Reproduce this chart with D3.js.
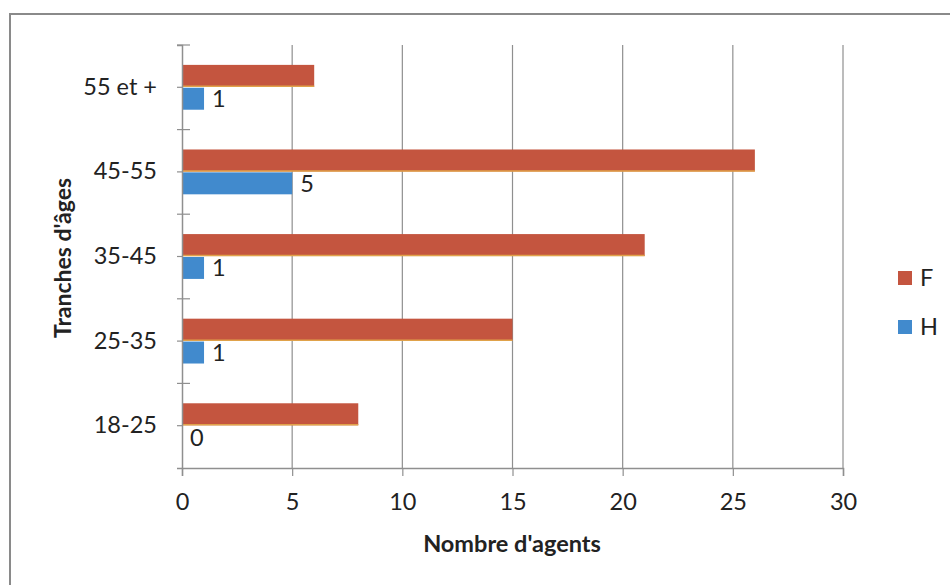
<!DOCTYPE html>
<html>
<head>
<meta charset="utf-8">
<script src="https://cdn.jsdelivr.net/npm/d3@7"></script>
<style>
  html, body { margin: 0; padding: 0; background: #fff; }
  svg { display: block; font-family: Lato, "Open Sans", sans-serif; }
</style>
</head>
<body>
<svg id="chart" width="950" height="585"></svg>
<script>
// Age brackets, listed bottom to top as on the axis
const categories = ["18-25", "25-35", "35-45", "45-55", "55 et +"];
// Number of agents per bracket
const femmes = [8, 15, 21, 26, 6];   // F
const hommes = [0, 1, 1, 5, 1];      // H
const seriesNames = ["F", "H"];
const xTicks = [0, 5, 10, 15, 20, 25, 30];

const colors = { F: "#c4553f", H: "#418acd" };
const textColor = "#222";
const gridColor = "#8f8f8f";
const labelSize = 23.5;

const svg = d3.select("#chart");

const plot = { left: 182, right: 843, top: 45, bottom: 468 };

const x = d3.scaleLinear().domain([0, 30]).range([plot.left, plot.right]);
const y = d3.scaleBand()
  .domain(categories.slice().reverse())
  .range([plot.top, plot.bottom])
  .paddingInner(0.47)
  .paddingOuter(0.235);
const band = (plot.bottom - plot.top) / categories.length;
const inner = d3.scaleBand().domain(seriesNames).range([0, y.bandwidth()]).paddingInner(0.04);

// Outer frame
svg.append("path")
  .attr("d", "M10,590 L10,14 L955,14")
  .attr("fill", "none")
  .attr("stroke", "#8a8a8a")
  .attr("stroke-width", 2);

// Vertical gridlines
svg.append("g")
  .selectAll("line")
  .data(xTicks.slice(1))
  .join("line")
  .attr("x1", d => x(d)).attr("x2", d => x(d))
  .attr("y1", plot.top).attr("y2", plot.bottom)
  .attr("stroke", gridColor)
  .attr("stroke-width", 1.2);

// Bars
const rows = categories.map((c, i) => ({ cat: c, F: femmes[i], H: hommes[i] }));
const groups = svg.append("g").selectAll("g")
  .data(rows)
  .join("g")
  .attr("transform", d => `translate(0,${y(d.cat)})`);

seriesNames.forEach(s => {
  groups.append("rect")
    .attr("x", x(0))
    .attr("y", inner(s))
    .attr("width", d => x(d[s]) - x(0))
    .attr("height", inner.bandwidth())
    .attr("fill", colors[s]);
});

// Thin warm edge under the F bars
groups.append("line")
  .attr("x1", x(0))
  .attr("x2", d => x(d.F))
  .attr("y1", inner("F") + inner.bandwidth() - 0.5)
  .attr("y2", inner("F") + inner.bandwidth() - 0.5)
  .attr("stroke", "#e0a24a")
  .attr("stroke-width", 1.5);

// Value labels on the H bars
groups.append("text")
  .attr("x", d => x(d.H) + 8)
  .attr("y", inner("H") + inner.bandwidth() / 2)
  .attr("dy", "0.36em")
  .attr("font-size", labelSize)
  .attr("fill", textColor)
  .text(d => d.H);

// X axis
const xAxis = svg.append("g")
  .attr("transform", `translate(0,${plot.bottom})`)
  .call(d3.axisBottom(x).tickValues(xTicks).tickSize(8).tickPadding(17).tickFormat(d3.format("d")));
xAxis.select(".domain").attr("stroke", gridColor).attr("stroke-width", 1.5);
xAxis.selectAll(".tick line").attr("stroke", gridColor).attr("stroke-width", 1.2);
xAxis.selectAll(".tick text").attr("font-size", labelSize).attr("fill", textColor).attr("font-family", "Lato, sans-serif");

// Y axis
const yAxis = svg.append("g")
  .attr("transform", `translate(${plot.left},0)`)
  .call(d3.axisLeft(y).tickSize(5).tickPadding(20));
yAxis.select(".domain").attr("stroke", gridColor).attr("stroke-width", 1.5);
yAxis.selectAll(".tick line").attr("stroke", gridColor).attr("stroke-width", 1.2);
yAxis.selectAll(".tick text").attr("font-size", labelSize).attr("fill", textColor).attr("font-family", "Lato, sans-serif");

// Inner tick marks at the bracket boundaries
yAxis.append("g")
  .selectAll("line")
  .data(d3.range(categories.length))
  .join("line")
  .attr("x1", -5).attr("x2", 8)
  .attr("y1", i => plot.top + i * band)
  .attr("y2", i => plot.top + i * band)
  .attr("stroke", gridColor)
  .attr("stroke-width", 1.2);

// Axis titles
svg.append("text")
  .attr("x", 512)
  .attr("y", 544)
  .attr("dy", "0.35em")
  .attr("text-anchor", "middle")
  .attr("font-size", 23.5)
  .attr("font-weight", "bold")
  .attr("fill", textColor)
  .text("Nombre d'agents");

svg.append("text")
  .attr("transform", "translate(63,258) rotate(-90)")
  .attr("dy", "0.35em")
  .attr("text-anchor", "middle")
  .attr("font-size", 23)
  .attr("font-weight", "bold")
  .attr("fill", textColor)
  .text("Tranches d'âges");

// Legend
const legend = svg.append("g").attr("transform", "translate(898,278)");
const items = legend.selectAll("g")
  .data(seriesNames)
  .join("g")
  .attr("transform", (d, i) => `translate(0,${i * 49})`);
items.append("rect")
  .attr("x", 0).attr("y", -7)
  .attr("width", 14).attr("height", 14)
  .attr("fill", d => colors[d]);
items.append("text")
  .attr("x", 22)
  .attr("dy", "0.36em")
  .attr("font-size", labelSize)
  .attr("fill", textColor)
  .text(d => d);
</script>
</body>
</html>
